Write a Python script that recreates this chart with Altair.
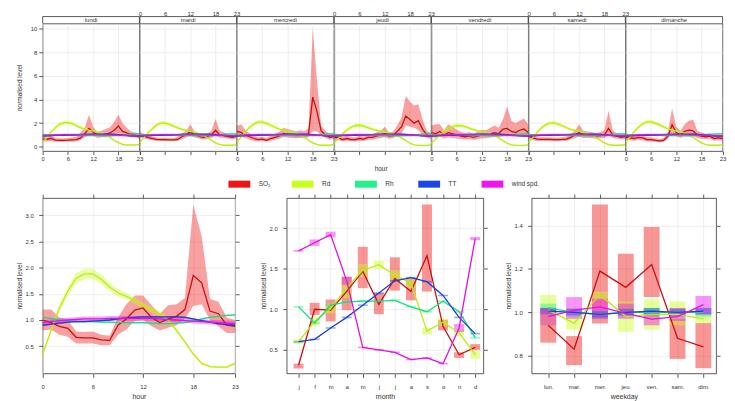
import json
import altair as alt
import pandas as pd

FONT = "Liberation Sans"
BOX = "#333333"

# ---------------- series ----------------
series_keys = ["SO2", "Rd", "Rh", "TT", "ws"]
series_labels = ["SO₂", "Rd", "Rh", "TT", "wind spd."]
fill_colors = ["#F01515", "#C8FF1E", "#22F088", "#1A46E8", "#F014F0"]
line_colors = ["#C81010", "#BDEB10", "#18DD7C", "#1A3FD8", "#E010E0"]

days = ["lundi", "mardi", "mercredi", "jeudi", "vendredi", "samedi", "dimanche"]
hours = list(range(24))
hour_ticks = [0, 6, 12, 18, 23]
top_y_ticks = [0, 2, 4, 6, 8, 10]
month_labels = ["j", "f", "m", "a", "m", "j", "j", "a", "s", "o", "n", "d"]
weekday_labels = ["lun.", "mar.", "mer.", "jeu.", "ven.", "sam.", "dim."]

# ---------------- top panel: hour x weekday ----------------
so2_day_mean = {
    "lundi":    [0.64,0.64,0.70,0.56,0.55,0.55,0.56,0.58,0.60,0.75,1.10,1.55,1.25,0.97,1.03,1.06,1.17,1.40,1.76,1.30,1.17,1.06,0.98,0.84],
    "mardi":    [1.00,0.90,0.78,0.70,0.62,0.60,0.60,0.58,0.58,0.62,0.85,1.00,1.30,1.00,0.90,0.80,0.85,1.00,1.40,1.00,0.95,0.85,0.80,0.90],
    "mercredi": [1.30,1.20,1.00,0.85,0.70,0.60,0.65,0.55,0.70,0.80,0.90,1.10,1.05,1.00,0.95,1.00,0.95,1.10,4.20,3.00,1.35,1.00,0.80,0.85],
    "jeudi":    [0.80,0.75,0.60,0.70,0.60,0.60,0.70,0.65,0.80,0.80,0.90,1.00,1.10,0.90,0.95,1.30,1.70,2.60,2.30,2.00,2.20,1.50,1.00,0.90],
    "vendredi": [1.20,1.10,1.30,1.00,1.20,1.10,1.00,0.90,0.85,0.90,0.80,0.90,1.00,1.00,1.10,1.20,1.10,1.50,1.55,1.30,1.20,1.40,1.50,1.20],
    "samedi":   [0.90,0.75,0.65,0.62,0.62,0.62,0.60,0.60,0.62,0.65,0.80,1.00,1.20,1.00,1.00,0.95,0.90,0.95,1.00,1.55,1.00,0.90,0.80,0.85],
    "dimanche": [0.80,0.75,0.70,0.80,0.75,0.60,0.60,0.55,0.50,0.55,0.90,1.85,1.20,1.00,1.30,1.40,1.35,1.00,0.90,0.85,0.90,0.70,0.75,0.70],
}
so2_day_lo = {
    "lundi":    [0.45,0.45,0.50,0.42,0.42,0.42,0.42,0.43,0.45,0.55,0.80,1.00,0.95,0.75,0.80,0.80,0.85,0.95,1.15,0.90,0.85,0.80,0.78,0.65],
    "mardi":    [0.78,0.70,0.62,0.55,0.50,0.48,0.48,0.46,0.46,0.48,0.65,0.78,0.95,0.78,0.70,0.62,0.65,0.75,0.95,0.78,0.75,0.68,0.62,0.70],
    "mercredi": [0.95,0.85,0.75,0.62,0.52,0.45,0.48,0.42,0.52,0.60,0.68,0.82,0.78,0.75,0.72,0.75,0.72,0.80,1.35,1.30,1.00,0.75,0.60,0.65],
    "jeudi":    [0.60,0.55,0.45,0.52,0.45,0.45,0.52,0.48,0.60,0.60,0.68,0.75,0.80,0.68,0.72,0.95,1.10,1.80,1.70,1.60,1.40,1.00,0.75,0.68],
    "vendredi": [0.85,0.75,0.90,0.70,0.80,0.75,0.70,0.65,0.62,0.65,0.58,0.65,0.72,0.72,0.78,0.85,0.78,1.00,1.00,0.90,0.85,0.95,1.00,0.85],
    "samedi":   [0.70,0.58,0.50,0.48,0.48,0.48,0.46,0.46,0.48,0.50,0.62,0.75,0.85,0.75,0.75,0.72,0.68,0.72,0.75,1.00,0.75,0.68,0.62,0.65],
    "dimanche": [0.60,0.55,0.52,0.60,0.55,0.45,0.45,0.42,0.38,0.42,0.68,1.15,0.90,0.75,0.95,1.00,0.95,0.75,0.68,0.65,0.68,0.52,0.55,0.52],
}
so2_day_hi = {
    "lundi":    [0.85,0.85,0.95,0.75,0.72,0.72,0.74,0.78,0.85,1.20,1.60,2.70,1.70,1.25,1.35,1.50,1.65,2.10,2.70,2.00,1.60,1.30,1.20,1.05],
    "mardi":    [1.25,1.10,0.95,0.88,0.78,0.75,0.75,0.72,0.75,0.85,1.15,1.35,1.90,1.30,1.15,1.05,1.10,1.35,2.35,1.35,1.20,1.10,1.00,1.15],
    "mercredi": [1.75,1.90,1.40,1.15,0.95,0.80,0.85,0.75,0.95,1.10,1.25,1.60,1.50,1.40,1.30,1.40,1.30,1.60,10.0,5.60,1.80,1.35,1.05,1.10],
    "jeudi":    [1.05,1.00,0.80,0.95,0.80,0.80,0.95,0.85,1.05,1.05,1.20,1.35,1.70,1.20,1.30,1.80,2.50,4.30,3.80,3.50,3.60,2.30,1.35,1.15],
    "vendredi": [1.80,1.90,1.90,1.40,1.90,1.70,1.45,1.25,1.15,1.25,1.10,1.30,1.45,1.40,1.60,1.80,1.60,2.30,3.40,2.20,2.00,2.20,2.40,1.90],
    "samedi":   [1.15,0.95,0.82,0.80,0.80,0.80,0.78,0.78,0.80,0.85,1.05,1.35,1.90,1.35,1.30,1.25,1.15,1.25,1.40,3.05,1.35,1.15,1.05,1.10],
    "dimanche": [1.05,1.00,0.95,1.05,1.00,0.80,0.80,0.72,0.68,0.75,1.20,3.25,1.70,1.35,1.90,2.20,2.30,1.35,1.20,1.10,1.15,0.95,1.00,0.95],
}
rd_day_mean = {
    "lundi":    [0.40,0.80,1.25,1.60,1.90,2.05,2.05,1.95,1.80,1.62,1.50,1.40,1.32,1.25,1.15,1.00,0.80,0.55,0.35,0.20,0.15,0.15,0.15,0.20],
    "mardi":    [0.38,0.80,1.20,1.55,1.85,2.00,2.00,1.90,1.75,1.60,1.48,1.38,1.30,1.22,1.12,0.98,0.78,0.55,0.33,0.18,0.13,0.13,0.13,0.18],
    "mercredi": [0.40,0.85,1.30,1.65,1.92,2.08,2.08,1.98,1.82,1.65,1.50,1.40,1.32,1.25,1.15,1.00,0.80,0.55,0.33,0.18,0.13,0.13,0.13,0.18],
    "jeudi":    [0.35,0.72,1.10,1.42,1.65,1.80,1.82,1.75,1.62,1.50,1.40,1.32,1.25,1.18,1.10,0.95,0.75,0.52,0.30,0.17,0.12,0.12,0.12,0.17],
    "vendredi": [0.32,0.65,1.00,1.30,1.55,1.70,1.78,1.78,1.70,1.58,1.45,1.35,1.28,1.20,1.10,0.95,0.75,0.52,0.30,0.17,0.12,0.12,0.12,0.17],
    "samedi":   [0.38,0.80,1.22,1.58,1.85,2.00,2.02,1.92,1.78,1.62,1.48,1.38,1.30,1.22,1.12,0.98,0.78,0.55,0.33,0.18,0.13,0.13,0.13,0.18],
    "dimanche": [0.40,0.85,1.28,1.65,1.95,2.10,2.10,2.00,1.85,1.68,1.52,1.42,1.33,1.25,1.15,1.00,0.80,0.55,0.33,0.18,0.13,0.13,0.13,0.18],
}
rd_day_ci = [0.06,0.10,0.13,0.15,0.17,0.18,0.18,0.17,0.15,0.14,0.13,0.12,0.12,0.11,0.10,0.10,0.09,0.08,0.07,0.06,0.05,0.05,0.05,0.05]
top_ci = {"Rh": 0.05, "TT": 0.05, "ws": 0.10}

# ---------------- bottom-left: hour ----------------
so2_hour = [1.00,0.95,0.88,0.84,0.67,0.66,0.66,0.62,0.61,0.90,1.02,1.19,1.23,1.05,0.95,1.02,1.07,1.20,1.85,1.71,1.17,1.12,0.90,0.88]
so2_hour_lo = [0.80,0.82,0.72,0.68,0.55,0.55,0.55,0.52,0.52,0.72,0.82,0.98,1.00,0.88,0.80,0.85,0.90,1.02,1.27,1.30,1.00,0.88,0.75,0.75]
so2_hour_hi = [1.20,1.20,1.05,1.00,0.78,0.77,0.78,0.72,0.70,1.05,1.30,1.47,1.47,1.28,1.12,1.28,1.30,1.42,3.20,2.60,1.40,1.35,1.05,1.00]
rd_hour = [0.35,0.80,1.23,1.55,1.80,1.88,1.88,1.78,1.63,1.52,1.45,1.37,1.28,1.20,1.12,1.00,0.80,0.58,0.35,0.17,0.11,0.10,0.10,0.17]
rd_hour_ci = [0.03,0.05,0.07,0.09,0.10,0.10,0.10,0.09,0.08,0.07,0.06,0.06,0.05,0.05,0.05,0.04,0.04,0.03,0.03,0.02,0.02,0.02,0.02,0.02]
rh_hour = [1.05,1.03,1.00,0.98,0.97,0.97,0.97,0.96,0.96,0.95,0.95,0.95,0.95,0.94,0.93,0.93,0.94,0.95,0.98,1.02,1.05,1.07,1.09,1.10]
tt_hour = [0.90,0.92,0.94,0.96,0.97,0.97,0.98,0.99,1.00,1.02,1.04,1.05,1.06,1.06,1.06,1.06,1.06,1.05,1.02,0.99,0.96,0.93,0.91,0.90]
ws_hour = [0.95,0.97,0.99,1.00,1.01,1.02,1.02,1.02,1.03,1.03,1.03,1.03,1.03,1.03,1.02,1.01,1.00,0.99,0.98,0.97,0.96,0.95,0.94,0.93]
hour_ci = {"Rh": 0.015, "TT": 0.015, "ws": 0.045}

# ---------------- bottom-middle: month ----------------
months = list(range(1, 13))
so2_month = [0.31,1.00,0.99,1.22,1.47,1.06,1.38,1.22,1.66,0.79,0.44,0.53]
so2_month_lo = [0.27,0.93,0.85,0.99,1.26,0.94,1.23,1.11,1.22,0.74,0.40,0.50]
so2_month_hi = [0.33,1.08,1.12,1.40,1.77,1.20,1.64,1.38,2.29,0.87,0.47,0.57]
rd_month = [0.60,0.85,1.01,1.26,1.48,1.55,1.42,1.32,0.73,0.84,0.71,0.44]
rd_month_ci = [0.03,0.05,0.06,0.12,0.08,0.05,0.06,0.06,0.04,0.045,0.045,0.05]
rh_month = [1.03,0.83,1.05,1.09,1.10,1.10,1.11,1.03,0.97,1.10,0.97,0.65]
tt_month = [0.60,0.63,0.77,0.90,1.05,1.20,1.35,1.39,1.34,1.17,0.90,0.70]
ws_month = [1.72,1.82,1.92,1.35,0.53,0.50,0.47,0.38,0.40,0.33,0.77,1.87]
ws_month_ci = [0.01,0.04,0.035,0.05,0.01,0.01,0.01,0.01,0.01,0.01,0.05,0.02]
month_ci = {"Rh": 0.012, "TT": 0.01}

# ---------------- bottom-right: weekday ----------------
wdays = list(range(1, 8))
so2_wd = [0.94,0.83,1.19,1.115,1.22,0.88,0.84]
so2_wd_lo = [0.86,0.756,0.948,0.994,1.07,0.785,0.742]
so2_wd_hi = [1.02,0.89,1.497,1.27,1.394,0.97,0.95]
rd_wd = [1.01,0.95,1.08,0.98,0.99,0.99,0.97]
rd_wd_lo = [0.94,0.92,1.065,0.91,0.92,0.94,0.95]
rd_wd_hi = [1.08,0.98,1.095,1.05,1.06,1.05,0.99]
rh_wd = [1.02,1.00,0.99,1.00,1.00,1.00,1.00]
tt_wd = [1.005,1.0,0.99,1.0,1.005,1.0,1.005]
ws_wd = [0.98,1.01,1.025,0.995,0.968,0.98,1.035]
ws_wd_lo = [0.94,0.97,0.97,0.97,0.94,0.96,0.99]
ws_wd_hi = [1.02,1.07,1.06,1.04,1.00,1.02,1.075]
wd_ci = {"Rh": 0.02, "TT": 0.015}


# ---------------- tables ----------------
def rows_for(xname, xs, table):
    out = []
    for key in series_keys:
        mean, lo, hi = table[key]
        for j, xv in enumerate(xs):
            out.append({xname: xv, "series": key, "lseries": key + "_line",
                        "mean": mean[j], "lo": lo[j], "hi": hi[j]})
    return out


def pm(vals, ci):
    if isinstance(ci, list):
        return ([v - c for v, c in zip(vals, ci)], [v + c for v, c in zip(vals, ci)])
    return ([v - ci for v in vals], [v + ci for v in vals])


top_rows = []
for day in days:
    rd_lo, rd_hi = pm(rd_day_mean[day], rd_day_ci)
    tab = {
        "SO2": (so2_day_mean[day], so2_day_lo[day], so2_day_hi[day]),
        "Rd": (rd_day_mean[day], rd_lo, rd_hi),
        "Rh": (rh_hour, *pm(rh_hour, top_ci["Rh"])),
        "TT": (tt_hour, *pm(tt_hour, top_ci["TT"])),
        "ws": (ws_hour, *pm(ws_hour, top_ci["ws"])),
    }
    for r in rows_for("hour", hours, tab):
        r["day"] = day
        top_rows.append(r)
top_df = pd.DataFrame(top_rows)

hour_df = pd.DataFrame(rows_for("hour", hours, {
    "SO2": (so2_hour, so2_hour_lo, so2_hour_hi),
    "Rd": (rd_hour, *pm(rd_hour, rd_hour_ci)),
    "Rh": (rh_hour, *pm(rh_hour, hour_ci["Rh"])),
    "TT": (tt_hour, *pm(tt_hour, hour_ci["TT"])),
    "ws": (ws_hour, *pm(ws_hour, hour_ci["ws"])),
}))
month_df = pd.DataFrame(rows_for("month", months, {
    "SO2": (so2_month, so2_month_lo, so2_month_hi),
    "Rd": (rd_month, *pm(rd_month, rd_month_ci)),
    "Rh": (rh_month, *pm(rh_month, month_ci["Rh"])),
    "TT": (tt_month, *pm(tt_month, month_ci["TT"])),
    "ws": (ws_month, *pm(ws_month, ws_month_ci)),
}))
wd_df = pd.DataFrame(rows_for("wday", wdays, {
    "SO2": (so2_wd, so2_wd_lo, so2_wd_hi),
    "Rd": (rd_wd, rd_wd_lo, rd_wd_hi),
    "Rh": (rh_wd, *pm(rh_wd, wd_ci["Rh"])),
    "TT": (tt_wd, *pm(tt_wd, wd_ci["TT"])),
    "ws": (ws_wd, ws_wd_lo, ws_wd_hi),
}))

cscale = alt.Scale(domain=series_keys + [k + "_line" for k in series_keys],
                   range=fill_colors + line_colors)

# ---------------- sizes ----------------
W_TOP = 97.5
H_TOP = 128.6
STRIP = 7.0
H_BOT = 176.8


def top_panel(i, day):
    d = top_df[top_df["day"] == day]
    xs = alt.Scale(domain=[0, 23], nice=False, zero=False)
    ys = alt.Scale(domain=[-0.36, 10.42], nice=False, zero=False)
    lab_bottom = (i % 2 == 0)
    xax = alt.Axis(values=hour_ticks, grid=True, labels=lab_bottom, tickSize=3.5,
                   labelPadding=1.5, title=None, labelFlush=False, labelOverlap=False)
    if i == 0:
        yax = alt.Axis(values=top_y_ticks, grid=True, title="normalised level",
                       tickSize=4, labelPadding=2, titlePadding=8)
    else:
        yax = alt.Axis(values=top_y_ticks, grid=True, labels=False, ticks=False, title=None)
    bands = alt.Chart(d).mark_area(opacity=0.4).encode(
        x=alt.X("hour:Q", scale=xs, axis=xax),
        y=alt.Y("lo:Q", scale=ys, axis=yax, stack=None),
        y2="hi:Q",
        color=alt.Color("series:N", scale=cscale, legend=None),
    )
    lines = alt.Chart(d).mark_line(strokeWidth=1.3).encode(
        x=alt.X("hour:Q", scale=xs, axis=None),
        y=alt.Y("mean:Q", scale=ys, axis=None),
        color=alt.Color("lseries:N", scale=cscale, legend=None),
    )
    strip = alt.Chart(pd.DataFrame({"day": [day]}))
    s_text = strip.mark_text(fontSize=6, color=BOX, baseline="middle", font=FONT).encode(
        text="day:N", x=alt.value(W_TOP / 2), y=alt.value(-STRIP / 2 + 0.3))
    s_top = strip.mark_rule(color=BOX, strokeWidth=0.8).encode(
        x=alt.value(0), x2=alt.value(W_TOP), y=alt.value(-STRIP))
    s_left = strip.mark_rule(color=BOX, strokeWidth=0.8).encode(
        x=alt.value(0), y=alt.value(-STRIP), y2=alt.value(0))
    s_right = strip.mark_rule(color=BOX, strokeWidth=0.8).encode(
        x=alt.value(W_TOP), y=alt.value(-STRIP), y2=alt.value(0))
    layers = [bands, lines, s_top, s_left, s_right, s_text]
    if not lab_bottom:
        top_ax = alt.Chart(d).mark_line(opacity=0).encode(
            x=alt.X("hour:Q", scale=xs, axis=alt.Axis(
                orient="top", values=hour_ticks, grid=False, ticks=False, labelPadding=0.5,
                offset=STRIP, title=None, labelFlush=False, labelOverlap=False)),
            y=alt.Y("mean:Q", scale=ys, axis=None),
        )
        layers.append(top_ax)
    return alt.layer(*layers).properties(width=W_TOP, height=H_TOP).resolve_axis(
        x="independent", y="independent")


top_row = alt.hconcat(*[top_panel(i, d) for i, d in enumerate(days)], spacing=0, bounds="flush")


def bottom_panel(df, xfield, xs, xvals, label_expr, xtitle, ys, yvals, width, bar_size):
    ax_kw = dict(values=xvals, grid=True, title=xtitle, tickSize=4, labelPadding=6,
                 titlePadding=3, labelFlush=False, labelOverlap=False, titleFontSize=7)
    if label_expr:
        ax_kw["labelExpr"] = label_expr
    xax = alt.Axis(**ax_kw)
    yax = alt.Axis(values=yvals, grid=True, title="normalised level", format=".1f",
                   tickSize=4, labelPadding=5.5, titlePadding=2.5)
    if bar_size is None:
        bands = alt.Chart(df).mark_area(opacity=0.4)
    else:
        bands = alt.Chart(df).mark_bar(opacity=0.45, size=bar_size)
    bands = bands.encode(
        x=alt.X(f"{xfield}:Q", scale=xs, axis=xax),
        y=alt.Y("lo:Q", scale=ys, axis=yax, stack=None),
        y2="hi:Q",
        color=alt.Color("series:N", scale=cscale, legend=None),
    )
    lines = alt.Chart(df).mark_line(strokeWidth=1.3).encode(
        x=alt.X(f"{xfield}:Q", scale=xs, axis=None),
        y=alt.Y("mean:Q", scale=ys, axis=None),
        color=alt.Color("lseries:N", scale=cscale, legend=None),
    )
    dummy = alt.Chart(df).mark_line(opacity=0).encode(
        x=alt.X(f"{xfield}:Q", scale=xs, axis=alt.Axis(
            orient="top", values=xvals, labels=False, grid=False, tickSize=4, title=None)),
        y=alt.Y("mean:Q", scale=ys, axis=alt.Axis(
            orient="right", values=yvals, labels=False, grid=False, tickSize=4, title=None)),
    )
    return alt.layer(bands, lines, dummy).properties(width=width, height=H_BOT).resolve_axis(
        x="independent", y="independent")


hour_panel = bottom_panel(
    hour_df, "hour", alt.Scale(domain=[0, 23], nice=False, zero=False), hour_ticks, None, "hour",
    alt.Scale(domain=[-0.02, 3.33], nice=False, zero=False), [0.5, 1.0, 1.5, 2.0, 2.5, 3.0],
    194, None)
month_panel = bottom_panel(
    month_df, "month", alt.Scale(domain=[0.57, 12.2], nice=False, zero=False), months,
    json.dumps(month_labels) + "[datum.value - 1]", "month",
    alt.Scale(domain=[0.21, 2.37], nice=False, zero=False), [0.5, 1.0, 1.5, 2.0],
    198.3, 10)
wd_panel = bottom_panel(
    wd_df, "wday", alt.Scale(domain=[0.55, 7.3], nice=False, zero=False), wdays,
    json.dumps(weekday_labels) + "[datum.value - 1]", "weekday",
    alt.Scale(domain=[0.718, 1.527], nice=False, zero=False), [0.8, 1.0, 1.2, 1.4],
    186, 16)

bottom_row = alt.hconcat(hour_panel, alt.hconcat(month_panel, wd_panel, spacing=48, bounds="flush"),
                         spacing=52, bounds="flush")

# ---------------- legend (with the shared "hour" title of the top row) ----------------
leg_df = pd.DataFrame({"idx": list(range(5)), "key": series_keys, "label": series_labels})
leg_x = alt.X("idx:Q", scale=alt.Scale(domain=[-3.108, 7.589], nice=False, zero=False), axis=None)
swatch = alt.Chart(leg_df).mark_point(
    shape="M-1,-0.32L1,-0.32L1,0.32L-1,0.32Z", size=484, filled=True, opacity=1, strokeWidth=0
).encode(x=leg_x, y=alt.value(6), color=alt.Color("key:N", scale=cscale, legend=None))
leg_text = alt.Chart(leg_df).mark_text(align="left", baseline="middle", dx=19.5, fontSize=6.5,
                                       color=BOX, font=FONT).encode(
    x=leg_x, y=alt.value(6), text="label:N")
legend_chart = alt.layer(swatch, leg_text).properties(
    width=W_TOP * 7, height=12, view=alt.ViewBackground(stroke="transparent"),
    title=alt.TitleParams("hour", orient="top", anchor="middle", frame="group",
                          fontSize=6.5, fontWeight="normal", color=BOX, offset=6, font=FONT))

lower = alt.vconcat(legend_chart, bottom_row, spacing=2)
chart = alt.vconcat(top_row, lower, spacing=3).properties(
    padding={"left": 7, "top": 0, "right": 0, "bottom": 0}
).configure(font=FONT).configure_axis(
    labelFont=FONT, titleFont=FONT, labelFontSize=6, titleFontSize=6.5, labelColor=BOX,
    titleColor=BOX, titleFontWeight="normal", tickColor=BOX, tickWidth=0.8,
    gridColor="#E6E6E6", gridWidth=0.7, domain=False
).configure_view(stroke=BOX, strokeWidth=0.8)

chart.save("out.html", embed_options={"renderer": "svg", "actions": False})
